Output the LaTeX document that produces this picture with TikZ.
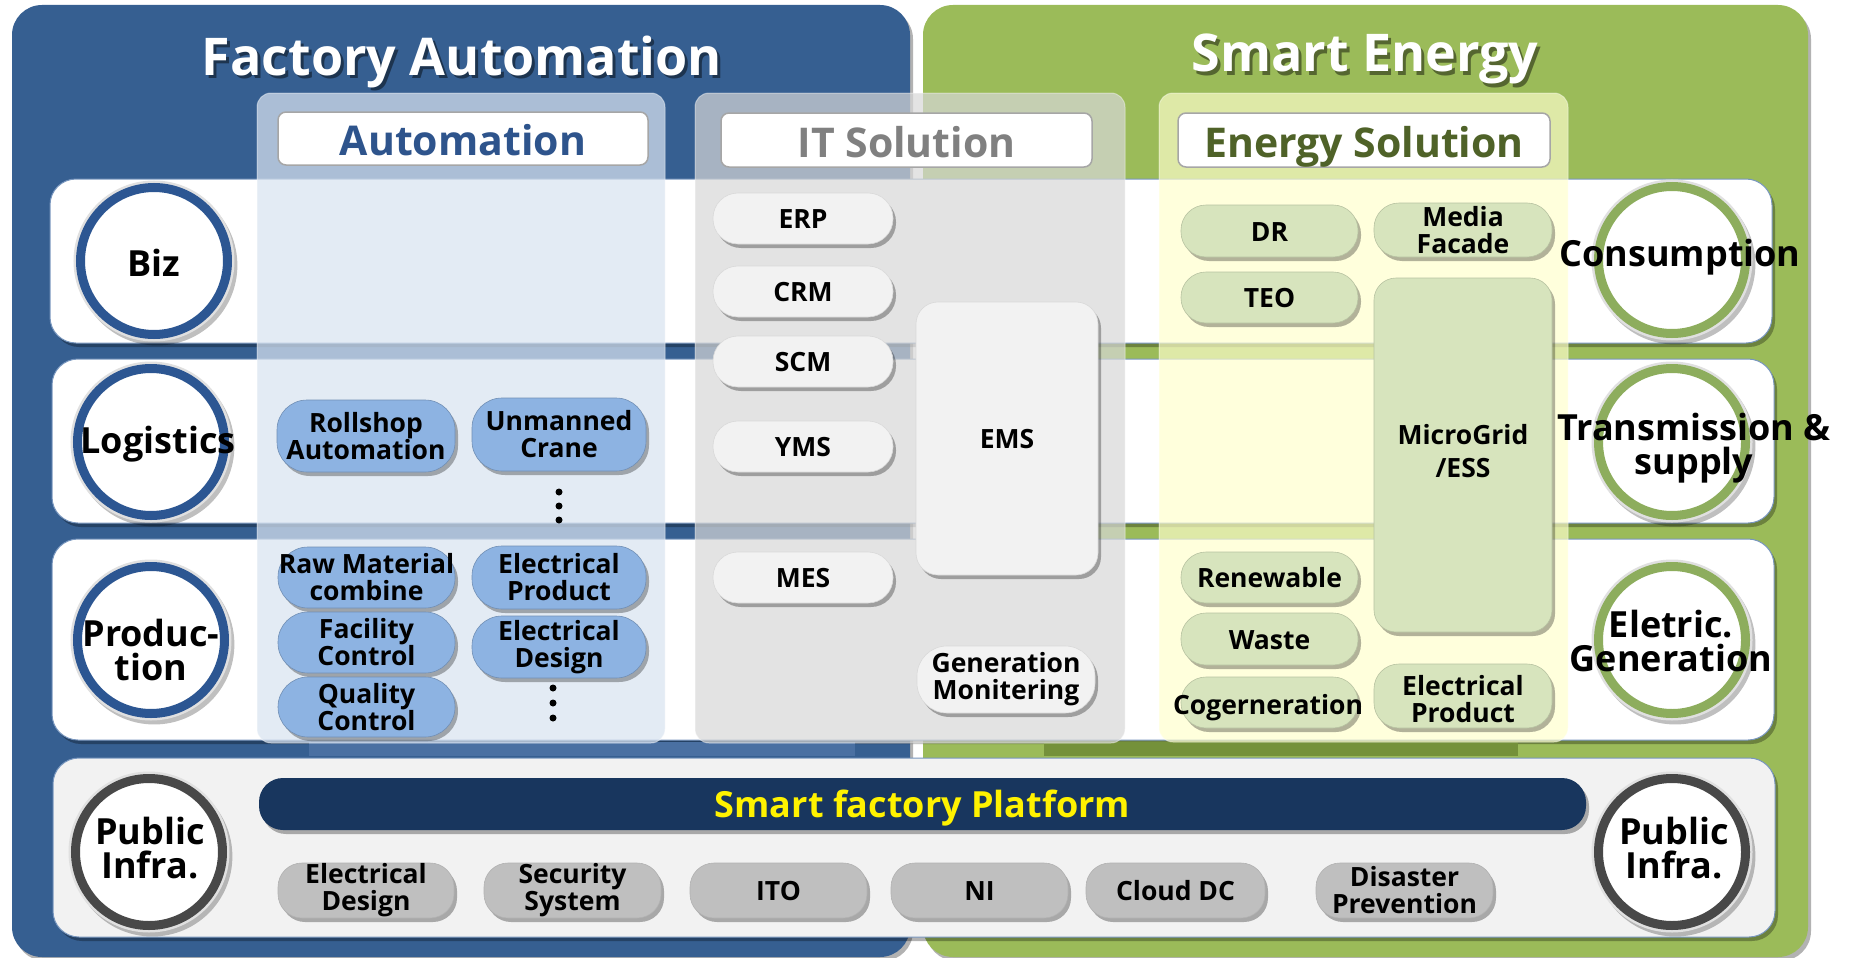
\documentclass[tikz,border=0pt]{standalone}
\usepackage{fontspec}
\setmainfont{Open Sans}
\usetikzlibrary{shadows}
\definecolor{panelBlue}{RGB}{54,95,145}
\definecolor{panelGreen}{RGB}{155,187,89}
\definecolor{colBlue}{RGB}{217,228,241}
\definecolor{colGray}{RGB}{216,216,216}
\definecolor{colYellow}{RGB}{255,255,204}
\definecolor{pillBlue}{RGB}{141,179,226}
\definecolor{pillGray}{RGB}{242,242,242}
\definecolor{pillGreen}{RGB}{215,228,189}
\definecolor{pillDark}{RGB}{191,191,191}
\definecolor{navy}{RGB}{24,54,94}
\definecolor{ringBlue}{RGB}{44,86,146}
\definecolor{ringGreen}{RGB}{141,173,93}
\definecolor{ringGray}{RGB}{72,72,72}
\definecolor{txtBlue}{RGB}{46,84,140}
\definecolor{txtGray}{RGB}{128,128,128}
\definecolor{txtGreen}{RGB}{79,98,40}
\definecolor{rowLine}{RGB}{120,150,190}
\definecolor{bandBlue}{RGB}{74,112,162}
\definecolor{bandGreen}{RGB}{116,145,58}

\newcommand\fpill{\fontsize{26.5}{27}\selectfont\bfseries}
\newcommand\flabel{\fontsize{36}{34}\selectfont\bfseries}
\newcommand\fhead{\fontsize{41}{46}\selectfont\bfseries}
\newcommand\ftitle{\fontsize{52}{58}\selectfont\bfseries}
\newcommand\fbar{\fontsize{36}{40}\selectfont\bfseries}

\newcommand\bx[7]{\node[#2, minimum width={(#5-#3)*1pt}, minimum height={(#6-#4)*1pt}] (#1) at ({(#3+#5)/2},{(#4+#6)/2}) {#7};}

\tikzset{
  shd/.style={drop shadow={shadow xshift=3pt,shadow yshift=-4pt,opacity=0.3,fill=black}},
  pillbase/.style={inner sep=0pt,outer sep=0pt,align=center,font=\fpill,shd},
  oneline/.style={text height=20pt,text depth=0pt},
  bpill/.style={pillbase,fill=pillBlue,draw=pillBlue!80!black,line width=0.6pt,rounded corners=30pt},
  ipill/.style={pillbase,fill=pillGray,draw=black!15,line width=0.6pt,rounded corners=25pt},
  epill/.style={pillbase,fill=pillGreen,draw=pillGreen!85!black,line width=0.6pt,rounded corners=25pt},
  dpill/.style={pillbase,fill=pillDark,draw=black!30,line width=0.6pt,rounded corners=24pt},
  ptext/.style={font=\fpill,align=center,inner sep=0pt},
  hdr/.style={inner sep=0pt,fill=white,draw=black!35,line width=1.5pt,rounded corners=8pt,font=\fhead,text height=34pt,text depth=0pt},
  ringnode/.style={circle,inner sep=0pt,minimum size=147pt,fill=white,draw=#1,line width=9pt,
     general shadow={shadow xshift=3pt,shadow yshift=-4pt,shadow scale=1.09,opacity=0.25,fill=black},
     preaction={draw=black!12,line width=14pt}},
  lbl/.style={inner sep=0pt,align=center,font=\flabel},
  ttl/.style={inner sep=0pt,font=\ftitle,text=white},
  ttlsh/.style={inner sep=0pt,font=\ftitle,text=black,text opacity=0.45},
  rowbox/.style={draw=rowLine,line width=1pt,rounded corners=26pt,shd},
  colbox/.style={rounded corners=14pt,draw=white,draw opacity=0.4,line width=1pt},
}

\begin{document}
\begin{tikzpicture}[x=1pt,y=-1pt]
\useasboundingbox (0,0) rectangle (1850,958);
\fill[white] (0,0) rectangle (1850,958);
% panels
\fill[panelBlue,rounded corners=30pt,shd] (12,5) rectangle (910,957);
\fill[panelGreen,rounded corners=30pt,shd] (923,5) rectangle (1808,957);
% rows
\path[rowbox,fill=white] (50,179) rectangle (1772,343);
\path[rowbox,fill=white] (52,359) rectangle (1774,523);
\path[rowbox,fill=white] (52,539) rectangle (1774,740);
\path[rowbox,fill=black!5] (53,758) rectangle (1775,937);
\fill[bandBlue] (309,742) rectangle (855,756);
\fill[bandGreen] (1044,742) rectangle (1518,756);
% columns
\path[colbox,fill=colBlue,fill opacity=0.72] (257,93) rectangle (665,743);
\path[colbox,fill=colGray,fill opacity=0.7] (695,93) rectangle (1125,743);
\path[colbox,fill=colYellow,fill opacity=0.68] (1159,93) rectangle (1568,742);
% headers
\bx{hA}{hdr,text=txtBlue}{278}{112}{648}{165}{Automation}
\bx{hI}{hdr,text=txtGray}{721}{113}{1092}{167}{IT Solution}
\bx{hE}{hdr,text=txtGreen}{1178}{113}{1550}{167}{Energy Solution}
% automation pills
\bx{aRoll}{bpill}{277}{400}{455}{472}{Rollshop\\Automation}
\bx{aCrane}{bpill}{472}{398}{646}{471}{Unmanned\\Crane}
\bx{aRaw}{bpill}{278}{547}{455}{608}{}
\node[ptext] (aRawt) at (366.5,577.5) {Raw Material\\combine};
\bx{aEP}{bpill}{472}{546}{646}{609}{Electrical\\Product}
\bx{aFC}{bpill}{278}{612}{455}{673}{Facility\\Control}
\bx{aED}{bpill}{472}{616}{646}{678}{Electrical\\Design}
\bx{aQC}{bpill}{278}{677}{455}{737}{Quality\\Control}
\fill (559,492) circle (3.5) (559,506) circle (3.5) (559,520) circle (3.5);
\fill (553,688) circle (3.5) (553,703) circle (3.5) (553,718) circle (3.5);
% IT pills
\bx{iERP}{ipill,oneline}{713}{193}{893}{244}{ERP}
\bx{iCRM}{ipill,oneline}{713}{266}{893}{317}{CRM}
\bx{iSCM}{ipill,oneline}{713}{336}{893}{387}{SCM}
\bx{iYMS}{ipill,oneline}{713}{421}{893}{472}{YMS}
\bx{iMES}{ipill,oneline}{713}{552}{893}{603}{MES}
\bx{iEMS}{ipill,oneline,rounded corners=22pt}{916}{302}{1098}{575}{EMS}
\bx{iGM}{ipill,rounded corners=30pt}{917}{646}{1095}{713}{Generation\\Monitering}
% energy pills
\bx{eDR}{epill,oneline}{1181}{205}{1358}{257}{DR}
\bx{eMF}{epill}{1374}{203}{1552}{257}{Media\\Facade}
\bx{eTEO}{epill,oneline}{1181}{272}{1358}{323}{TEO}
\bx{eMG}{epill,rounded corners=22pt}{1374}{278}{1552}{632}{}
\node[font={\fontsize{26.5}{33}\selectfont\bfseries},align=center,inner sep=0pt] (eMGt) at (1463,451) {MicroGrid\\/ESS};
\bx{eRen}{epill,oneline}{1181}{552}{1358}{603}{Renewable}
\bx{eWaste}{epill,oneline}{1181}{613}{1358}{665}{Waste}
\bx{eCog}{epill}{1181}{677}{1358}{728}{}
\node[ptext,oneline] (eCogt) at (1268,704) {Cogerneration};
\bx{eEP}{epill}{1374}{664}{1552}{728}{}
\node[ptext] (eEPt) at (1463,699) {Electrical\\Product};
% circles
\node[ringnode=ringBlue] (cBiz) at (154,261) {};
\node[lbl,anchor=base] (tBiz) at (154,276) {Biz};
\node[ringnode=ringBlue] (cLog) at (151,442) {};
\node[lbl,anchor=base] (tLog) at (158,453) {Logistics};
\node[ringnode=ringBlue] (cPro) at (151,640) {};
\node[lbl] (tPro) at (151,650) {Produc-\\tion};
\node[ringnode=ringGray] (cPubL) at (149,852) {};
\node[lbl] (tPubL) at (150,848) {Public\\Infra.};
\node[ringnode=ringGreen] (cCon) at (1672,260) {};
\node[lbl,anchor=base] (tCon) at (1680,266) {Consumption};
\node[ringnode=ringGreen] (cTra) at (1672,442) {};
\node[lbl] (tTra) at (1694,448) {Transmission \&\\supply};
\node[ringnode=ringGreen] (cGen) at (1672,640) {};
\node[lbl] (tGen) at (1671,641) {Eletric.\\Generation};
\node[ringnode=ringGray] (cPubR) at (1672,852) {};
\node[lbl] (tPubR) at (1674,848) {Public\\Infra.};
% platform
\bx{sfp}{fill=navy,rounded corners=24pt,inner sep=0pt,font=\fbar,text=yellow,text height=27pt,text depth=0pt,shd}{259}{778}{1586}{830}{Smart factory Platform}
\bx{bED}{dpill}{278}{863}{454}{918}{Electrical\\Design}
\bx{bSS}{dpill}{484}{863}{661}{918}{Security\\System}
\bx{bITO}{dpill,oneline}{690}{863}{867}{918}{ITO}
\bx{bNI}{dpill,oneline}{891}{863}{1068}{918}{NI}
\bx{bCDC}{dpill,oneline}{1086}{863}{1265}{918}{Cloud DC}
\bx{bDP}{dpill}{1316}{863}{1493}{918}{Disaster\\Prevention}
% titles
\node[ttlsh,anchor=base] (tFAs) at (465,78) {Factory Automation};
\node[ttl,anchor=base] (tFA) at (462,75) {Factory Automation};
\node[ttlsh,anchor=base] (tSEs) at (1368,75) {Smart Energy};
\node[ttl,anchor=base] (tSE) at (1365,72) {Smart Energy};
\end{tikzpicture}
\end{document}
